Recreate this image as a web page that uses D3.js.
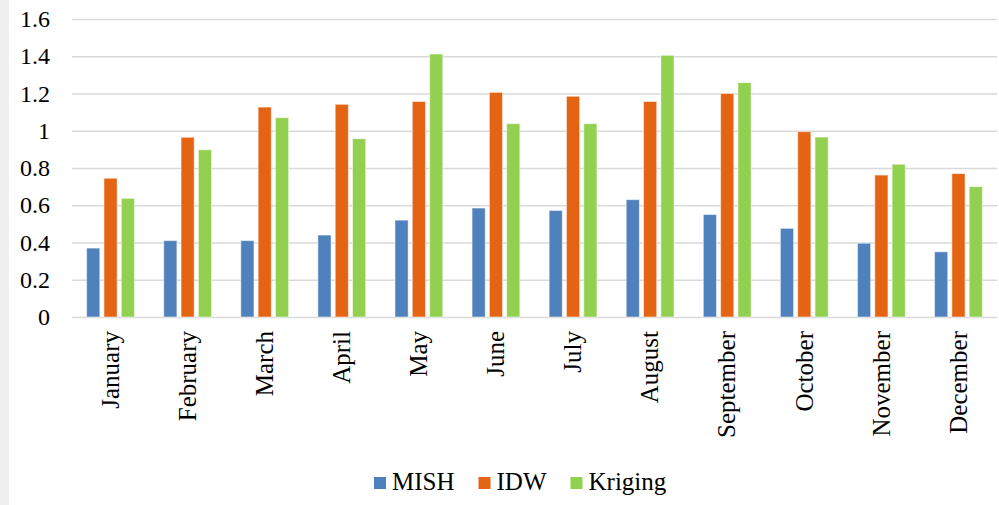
<!DOCTYPE html>
<html>
<head>
<meta charset="utf-8">
<script src="https://cdn.jsdelivr.net/npm/d3@7"></script>
<style>
  body { margin: 0; background: #fff; }
</style>
</head>
<body>
<svg id="chart" width="999" height="505"></svg>
<script>
// data
const months = ["January", "February", "March", "April", "May", "June",
    "July", "August", "September", "October", "November", "December"];
const seriesNames = ["MISH", "IDW", "Kriging"];
const mish = [0.37, 0.41, 0.41, 0.44, 0.52, 0.585, 0.572, 0.63, 0.55, 0.476, 0.396, 0.35];
const idw = [0.745, 0.965, 1.127, 1.142, 1.157, 1.206, 1.185, 1.157, 1.2, 0.995, 0.762, 0.77];
const kriging = [0.637, 0.898, 1.07, 0.957, 1.412, 1.038, 1.038, 1.405, 1.258, 0.966, 0.82, 0.70];
const yTicks = [0, 0.2, 0.4, 0.6, 0.8, 1, 1.2, 1.4, 1.6];
const colors = ["#4F81BD", "#E46414", "#92D050"];
const fontFamily = "'Liberation Serif', 'Times New Roman', Times, serif";

const margin = { top: 19, right: 2, bottom: 188, left: 72 };

const svg = d3.select("#chart");
const width = +svg.attr("width") - margin.left - margin.right;
const height = +svg.attr("height") - margin.top - margin.bottom;

// grey strip on the left edge
svg.append("rect").attr("x", 0).attr("y", 0).attr("width", 9).attr("height", 505).attr("fill", "#efefef");

const g = svg.append("g").attr("transform", "translate(" + margin.left + "," + margin.top + ")");

const data = months.map((m, i) => ({ month: m, values: [mish[i], idw[i], kriging[i]] }));

const x0 = d3.scaleBand().domain(months).range([0, width]).paddingInner(0.38).paddingOuter(0.19);
const x1 = d3.scaleBand().domain(seriesNames).range([0, x0.bandwidth()]).paddingInner(0.24);
const y = d3.scaleLinear().domain([0, 1.6]).range([height, 0]);

// gridlines + y labels
const yAxis = g.append("g")
    .attr("class", "axis axis--y")
    .call(d3.axisLeft(y).tickValues(yTicks).tickSize(-width).tickPadding(22).tickFormat(d3.format("")));
yAxis.attr("font-family", null).attr("font-size", null);
yAxis.select(".domain").remove();
yAxis.selectAll("line").attr("stroke", "#d9d9d9").attr("stroke-width", 1.5);
yAxis.selectAll("text")
    .style("font-family", fontFamily)
    .style("font-size", "24px")
    .attr("fill", "#000");

// bars
const groups = g.append("g").selectAll("g")
    .data(data)
    .join("g")
    .attr("transform", d => "translate(" + x0(d.month) + ",0)");

groups.selectAll("rect")
    .data(d => d.values.map((v, i) => ({ key: seriesNames[i], value: v, i: i })))
    .join("rect")
    .attr("x", d => x1(d.key))
    .attr("y", d => y(d.value))
    .attr("width", x1.bandwidth())
    .attr("height", d => height - y(d.value))
    .attr("fill", d => colors[d.i])
    .attr("stroke", "#fff")
    .attr("stroke-opacity", 0.5)
    .attr("stroke-width", 1);

// x axis labels, rotated
const xAxis = g.append("g")
    .attr("class", "axis axis--x")
    .attr("transform", "translate(0," + height + ")")
    .call(d3.axisBottom(x0).tickSize(0));
xAxis.attr("font-family", null).attr("font-size", null);
xAxis.select(".domain").remove();
xAxis.selectAll("text")
    .attr("transform", "rotate(-90)")
    .attr("x", -14)
    .attr("y", 0)
    .attr("dy", "0.33em")
    .style("text-anchor", "end")
    .style("font-family", fontFamily)
    .style("font-size", "25px")
    .attr("fill", "#000");

// legend
const legend = svg.append("g").attr("transform", "translate(374,477)");
let lx = 0;
seriesNames.forEach((name, i) => {
    const item = legend.append("g").attr("transform", "translate(" + lx + ",0)");
    item.append("rect").attr("width", 12).attr("height", 12).attr("fill", colors[i]);
    const t = item.append("text")
        .attr("x", 18)
        .attr("y", 13)
        .style("font-family", fontFamily)
        .style("font-size", "25px")
        .attr("fill", "#000")
        .text(name);
    lx += 18 + t.node().getComputedTextLength() + 24;
});
</script>
</body>
</html>
